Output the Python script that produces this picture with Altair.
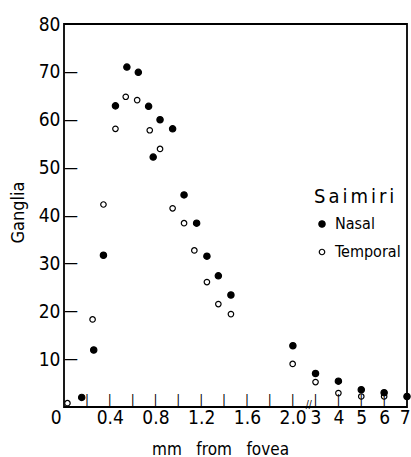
import altair as alt
import pandas as pd

# ---- data (x in mm from fovea, y = ganglia) ----
nasal_x = [0.155, 0.26, 0.345, 0.45, 0.55, 0.65, 0.74, 0.78, 0.84, 0.95,
           1.05, 1.16, 1.25, 1.35, 1.46, 2.01, 3.0, 4.0, 5.0, 6.0, 7.0]
nasal_y = [2.0, 11.9, 31.7, 62.9, 71.0, 69.9, 62.8, 52.2, 60.0, 58.1,
           44.3, 38.4, 31.5, 27.4, 23.4, 12.8, 7.0, 5.4, 3.6, 3.0, 2.2]
temporal_x = [0.03, 0.25, 0.345, 0.45, 0.54, 0.64, 0.75, 0.84, 0.95, 1.05,
              1.14, 1.25, 1.35, 1.46, 2.0, 3.0, 4.0, 5.0, 6.0]
temporal_y = [0.8, 18.3, 42.3, 58.1, 64.8, 64.1, 57.8, 53.9, 41.5, 38.4,
              32.7, 26.1, 21.5, 19.4, 9.0, 5.2, 2.9, 2.2, 2.2]

y_tick_values = [10, 20, 30, 40, 50, 60, 70]
x_tick_mm = [0.2, 0.4, 0.6, 0.8, 1.0, 1.2, 1.4, 1.6, 1.8, 2.0, 3, 4, 5, 6]
x_label_mm = [0, 0.4, 0.8, 1.2, 1.6, 2.0, 3, 4, 5, 6, 7]
break_mm = [2.7]  # position of the axis break marks (between 2.0 and 3)

FONT = "DejaVu Sans Condensed"
W, H = 343, 383

# broken axis: linear 0-2 mm, then each further mm is drawn as 0.2 mm
U_EXPR = "datum.x <= 2 ? datum.x : 2 + (datum.x - 2) * 0.2"


def to_u(m):
    return m if m <= 2 else 2 + (m - 2) * 0.2


pts = pd.DataFrame({
    "x": temporal_x + nasal_x,
    "y": temporal_y + nasal_y,
    "series": ["Temporal"] * len(temporal_x) + ["Nasal"] * len(nasal_x),
})
yt = pd.DataFrame({"y": y_tick_values})
xt = pd.DataFrame({"x": x_tick_mm})
brk = pd.DataFrame({"x": break_mm})

xscale = alt.Scale(domain=[0, 3], nice=False, zero=False)
yscale = alt.Scale(domain=[0, 80], nice=False)

x_axis = alt.Axis(
    values=[to_u(m) for m in x_label_mm],
    labelExpr=("datum.value == 0 ? '0' : (datum.value <= 2.0001 ? format(datum.value, '.1f')"
               " : format(2 + (datum.value - 2) * 5, '.0f'))"),
    labelAlign={"condition": {"test": "datum.value == 0 || datum.value > 2.9",
                              "value": "right"}, "value": "center"},
    labelOffset={"condition": [{"test": "datum.value == 0", "value": -3},
                               {"test": "datum.value > 2.9", "value": 3}],
                 "value": 0},
    domain=False, ticks=False, tickSize=0, grid=False,
    labelFont=FONT, labelFontSize=19, labelColor="black", labelPadding=1,
    labelBaseline="top", labelFlush=False, labelOverlap=False,
    title="mm\u00a0\u00a0 from\u00a0\u00a0 fovea", titleFont=FONT, titleFontSize=17,
    titleFontWeight="normal", titleColor="black",
    titleX=156, titleY=47, titleAlign="center", titleBaseline="alphabetic",
)
y_axis = alt.Axis(
    values=[10, 20, 30, 40, 50, 60, 70, 80],
    domain=False, ticks=False, tickSize=0, grid=False,
    labelFont=FONT, labelFontSize=19, labelColor="black", labelPadding=4,
    labelBaseline="middle", labelFlush=False,
    title="Ganglia", titleFont=FONT, titleFontSize=18, titleFontWeight="normal",
    titleColor="black", titleX=-46, titleY=188, titleAlign="center",
    titleBaseline="middle", titleAngle=270,
)
legend = alt.Legend(
    title="S\u2006a\u2006i\u2006m\u2006i\u2006r\u2006i", orient="none",
    legendX=250, legendY=163, padding=0,
    titleFont=FONT, titleFontSize=20, titleFontWeight="normal",
    titleColor="black", titlePadding=9,
    labelFont=FONT, labelFontSize=16, labelColor="black", labelOffset=5,
    symbolType="circle", symbolStrokeColor="black",
    symbolStrokeWidth=1.2, rowPadding=12,
)
series_domain = ["Nasal", "Temporal"]

points = alt.Chart(pts).transform_calculate(u=U_EXPR).mark_point(
    filled=True, strokeWidth=1.2, opacity=1
).encode(
    x=alt.X("u:Q", scale=xscale, axis=x_axis),
    y=alt.Y("y:Q", scale=yscale, axis=y_axis),
    fill=alt.Fill("series:N",
                  scale=alt.Scale(domain=series_domain, range=["black", "white"]),
                  legend=legend),
    stroke=alt.Stroke("series:N",
                      scale=alt.Scale(domain=series_domain, range=["black", "black"]),
                      legend=legend),
    size=alt.Size("series:N",
                  scale=alt.Scale(domain=series_domain, range=[40, 30]),
                  legend=legend),
)

# inward tick marks drawn as glyphs (dash for y, bar for x)
ytick_layer = alt.Chart(yt).mark_text(
    text="\u2014", font=FONT, fontSize=15.5, color="black",
    align="center", baseline="alphabetic", dy=5
).encode(
    y=alt.Y("y:Q", scale=yscale, axis=y_axis),
    x=alt.value(7),
)
xtick_layer = alt.Chart(xt).transform_calculate(u=U_EXPR).mark_text(
    text="|", font=FONT, fontSize=13, color="black",
    align="center", baseline="alphabetic", dy=-3
).encode(
    x=alt.X("u:Q", scale=xscale, axis=x_axis),
    y=alt.value(H),
)
break_layer = alt.Chart(brk).transform_calculate(u=U_EXPR).mark_text(
    text="//", font=FONT, fontSize=10, color="black", baseline="alphabetic", dy=1
).encode(
    x=alt.X("u:Q", scale=xscale, axis=x_axis),
    y=alt.value(H),
)

chart = alt.layer(points, ytick_layer, xtick_layer, break_layer).properties(
    width=W, height=H,
    autosize=alt.AutoSizeParams(type="none"),
    padding={"left": 64, "top": 24, "right": 4, "bottom": 50},
    background="white",
).configure_view(
    stroke="black", strokeWidth=1.8
)

chart.save("out.html", embed_options={"renderer": "svg", "actions": False})
